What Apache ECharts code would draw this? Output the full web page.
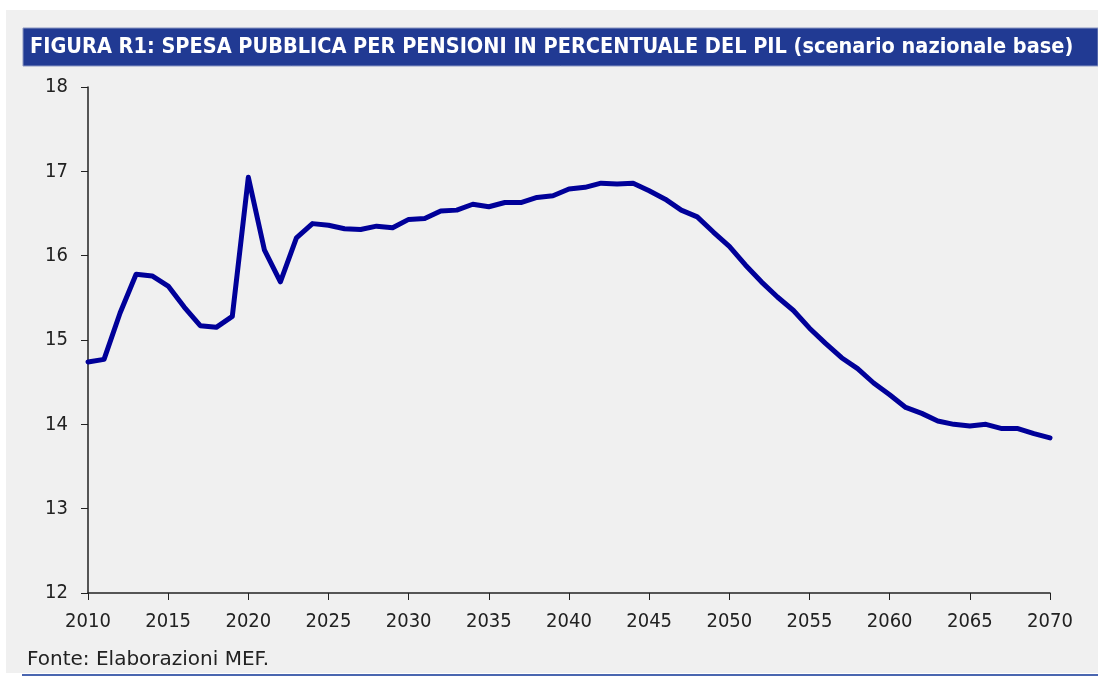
<!DOCTYPE html>
<html>
<head>
<meta charset="utf-8">
<script src="https://cdn.jsdelivr.net/npm/echarts@6/dist/echarts.min.js"></script>
<style>
html,body{margin:0;padding:0;background:#ffffff;}
#chart{width:1098px;height:677px;}
</style>
</head>
<body>
<div id="chart"></div>
<script>
const titleText = "FIGURA R1: SPESA PUBBLICA PER PENSIONI IN PERCENTUALE DEL PIL (scenario nazionale base)";
const sourceText = "Fonte: Elaborazioni MEF.";
const years = [2010,2011,2012,2013,2014,2015,2016,2017,2018,2019,2020,2021,2022,2023,2024,2025,2026,2027,2028,2029,2030,2031,2032,2033,2034,2035,2036,2037,2038,2039,2040,2041,2042,2043,2044,2045,2046,2047,2048,2049,2050,2051,2052,2053,2054,2055,2056,2057,2058,2059,2060,2061,2062,2063,2064,2065,2066,2067,2068,2069,2070];
const spesa = [14.74,14.77,15.32,15.78,15.76,15.64,15.39,15.17,15.15,15.28,16.93,16.07,15.69,16.21,16.38,16.36,16.32,16.31,16.35,16.33,16.43,16.44,16.53,16.54,16.61,16.58,16.63,16.63,16.69,16.71,16.79,16.81,16.86,16.85,16.86,16.77,16.67,16.54,16.46,16.28,16.11,15.89,15.69,15.51,15.35,15.14,14.96,14.79,14.66,14.49,14.35,14.20,14.13,14.04,14.00,13.98,14.00,13.95,13.95,13.89,13.84];
const yTicks = [12,13,14,15,16,17,18];
const xTicks = [2010,2015,2020,2025,2030,2035,2040,2045,2050,2055,2060,2065,2070];

const chart = echarts.init(document.getElementById('chart'), null, {renderer:'canvas'});
const font = '"DejaVu Sans Condensed", "DejaVu Sans", sans-serif';
chart.setOption({
  backgroundColor: '#ffffff',
  animation: false,
  graphic: [
    {type:'rect', z:-10, shape:{x:6,y:10,width:1092,height:663}, style:{fill:'#f0f0f0'}},
    {type:'rect', z:-5, shape:{x:23,y:28,width:1075,height:38}, style:{fill:'#213a93', stroke:'#8b97c2', lineWidth:1}},
    {type:'text', z:5, x:30, y:47, style:{text:titleText, fill:'#ffffff', verticalAlign:'middle', font:'bold 21.5px "DejaVu Sans Condensed", "Liberation Sans Narrow", sans-serif'}},
    {type:'text', z:5, x:27, y:660, style:{text:sourceText, fill:'#222222', verticalAlign:'middle', font:'20px "DejaVu Sans", sans-serif'}},
    {type:'rect', z:5, shape:{x:22,y:674,width:1076,height:2}, style:{fill:'#4a66b0'}}
  ],
  grid: {left:88, right:48, top:87, bottom:84, containLabel:false},
  xAxis: {
    type:'value', min:2010, max:2070, interval:5,
    axisLine:{show:true, lineStyle:{color:'#222', width:1.5}},
    axisTick:{show:true, inside:false, length:7, lineStyle:{color:'#222'}},
    splitLine:{show:false},
    axisLabel:{formatter:function(v){return xTicks.indexOf(v)>=0 ? String(v) : '';}, color:'#222', fontSize:20, fontFamily:font, margin:19}
  },
  yAxis: {
    type:'value', min:12, max:18, interval:1,
    axisLine:{show:true, lineStyle:{color:'#222', width:1.5}},
    axisTick:{show:true, inside:false, length:7, lineStyle:{color:'#222'}},
    splitLine:{show:false},
    axisLabel:{formatter:function(v){return yTicks.indexOf(v)>=0 ? String(v) : '';}, color:'#222', fontSize:20, fontFamily:font, margin:20}
  },
  series: [{
    type:'line',
    data: years.map((y,i)=>[y, spesa[i]]),
    showSymbol:false,
    smooth:false,
    lineStyle:{color:'#000099', width:5, join:'round', cap:'round'},
    itemStyle:{color:'#000099'}
  }]
});
</script>
</body>
</html>
